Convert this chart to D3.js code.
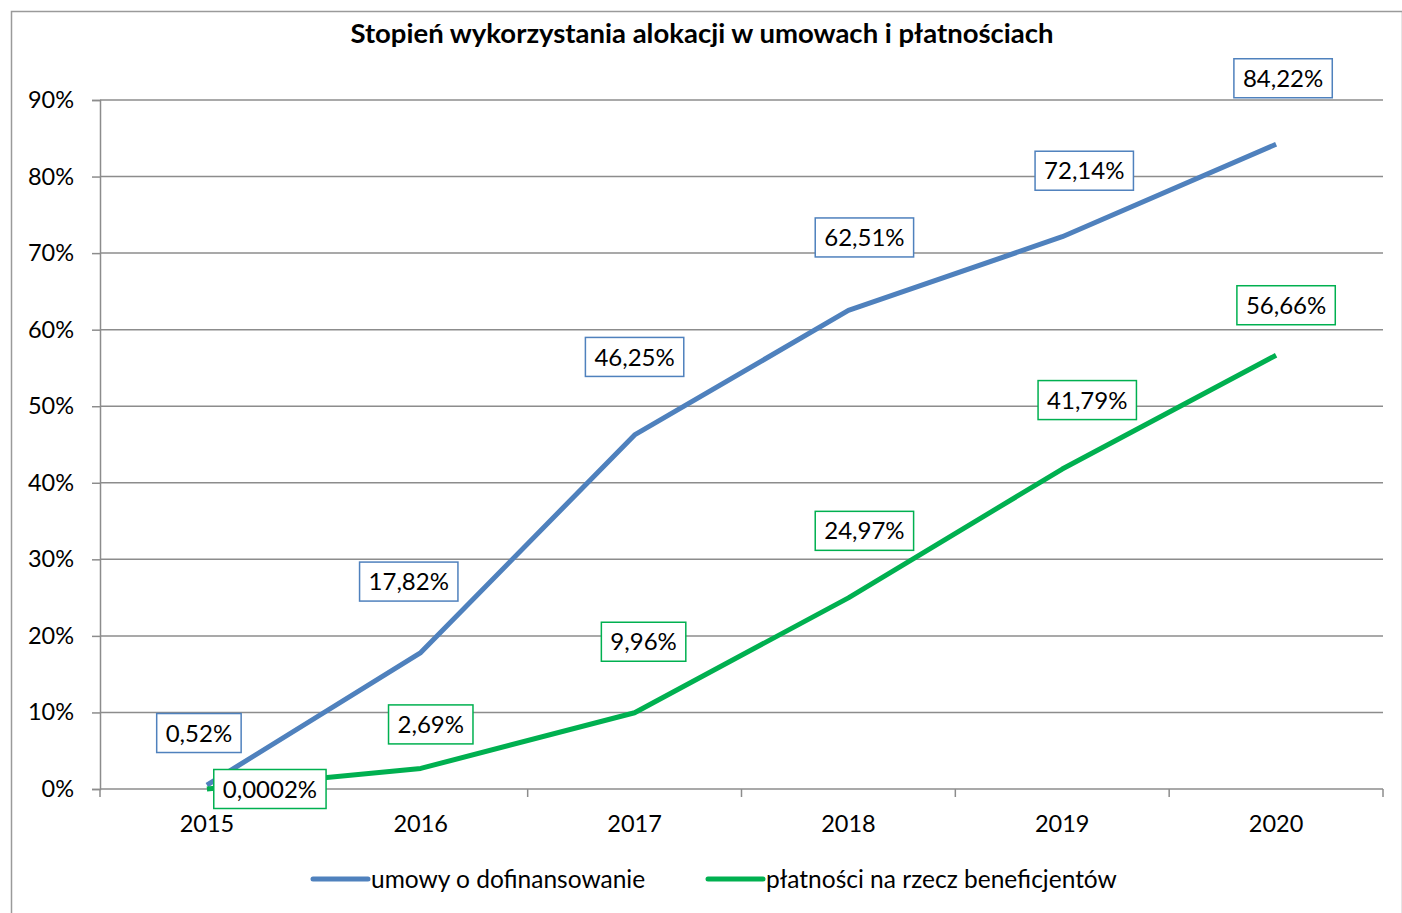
<!DOCTYPE html>
<html>
<head>
<meta charset="utf-8">
<script src="https://cdn.jsdelivr.net/npm/d3@7"></script>
<style>
  body { margin: 0; background: #fff; }
  svg text { font-family: Lato, "Open Sans", sans-serif; fill: #000; }
</style>
</head>
<body>
<div id="chart"></div>
<script>
// Data
var years = ['2015', '2016', '2017', '2018', '2019', '2020']
var umowy = [0.52, 17.82, 46.25, 62.51, 72.14, 84.22]
var platnosci = [0.0002, 2.69, 9.96, 24.97, 41.79, 56.66]
var umowyLabels = ['0,52%', '17,82%', '46,25%', '62,51%', '72,14%', '84,22%']
var platnosciLabels = ['0,0002%', '2,69%', '9,96%', '24,97%', '41,79%', '56,66%']
var yTicks = [0, 10, 20, 30, 40, 50, 60, 70, 80, 90]

// label placement (offset of box centre from the point)
var umowyOffsets = [[-8, -52], [-12, -71], [0, -78], [16, -73], [22, -66], [7, -66]]
var platnosciOffsets = [[63, 0], [10, -44], [9, -71], [16, -67], [25, -69], [10, -50]]

var W = 1402, H = 913
var margin = {top: 100, right: 19, bottom: 124, left: 100}
var width = W - margin.left - margin.right
var height = H - margin.top - margin.bottom

var svg = d3.select('#chart').append('svg')
  .attr('width', W)
  .attr('height', H)

// chart frame
svg.append('rect')
  .attr('x', 11.5).attr('y', 11.5)
  .attr('width', W - 11).attr('height', H)
  .attr('fill', 'none')
  .attr('stroke', '#9a9a9a')
  .attr('stroke-width', 1.5)

svg.append('text')
  .attr('x', 702).attr('y', 43)
  .attr('text-anchor', 'middle')
  .style('font-size', '27.5px')
  .style('font-weight', 'bold')
  .text('Stopień wykorzystania alokacji w umowach i płatnościach')

var g = svg.append('g')
  .attr('transform', 'translate(' + margin.left + ',' + margin.top + ')')

var x = d3.scaleBand().domain(years).range([0, width])
var y = d3.scaleLinear().domain([0, 90]).range([height, 0])

// gridlines
g.selectAll('.grid')
  .data(yTicks.slice(1))
  .enter().append('line')
    .attr('x1', 0).attr('x2', width)
    .attr('y1', function(d){ return y(d) })
    .attr('y2', function(d){ return y(d) })
    .attr('stroke', '#8c8c8c')
    .attr('stroke-width', 1.5)

// Axes
var yAxis = d3.axisLeft(y)
  .tickValues(yTicks)
  .tickFormat(function(d){ return d + '%' })
  .tickSize(8)
  .tickPadding(18)
g.append('g').attr('class', 'axis axis--y').call(yAxis)

var xAxis = d3.axisBottom(x).tickSize(0).tickPadding(26)
var gx = g.append('g')
  .attr('class', 'axis axis--x')
  .attr('transform', 'translate(0,' + height + ')')
  .call(xAxis)

// category boundary ticks
var bounds = years.map(function(d){ return x(d) }).concat([width])
gx.selectAll('.bound')
  .data(bounds)
  .enter().append('line')
    .attr('x1', function(d){ return d }).attr('x2', function(d){ return d })
    .attr('y1', 0).attr('y2', 8)
    .attr('stroke', '#8c8c8c')
    .attr('stroke-width', 1.5)

g.selectAll('.domain')
  .attr('stroke', '#8c8c8c')
  .attr('stroke-width', 1.5)
g.selectAll('.tick line')
  .attr('stroke', '#8c8c8c')
  .attr('stroke-width', 1.5)
g.selectAll('.tick text')
  .style('font-size', '23.5px')
  .attr('fill', '#000')
gx.select('.domain').attr('d', 'M0,0H' + width)

var cx = function(d, i){ return x(years[i]) + x.bandwidth() / 2 }

var series = [
  {values: umowy, labels: umowyLabels, offsets: umowyOffsets, color: '#4f81bd'},
  {values: platnosci, labels: platnosciLabels, offsets: platnosciOffsets, color: '#00b050'}
]

var line = d3.line()
  .x(cx)
  .y(function(d){ return y(d) })

series.forEach(function(s){
  g.append('path')
    .datum(s.values)
    .attr('fill', 'none')
    .attr('stroke', s.color)
    .attr('stroke-width', 5)
    .attr('stroke-linejoin', 'round')
    .attr('d', line)
})

// data labels
series.forEach(function(s){
  var lab = g.selectAll(null)
    .data(s.values)
    .enter().append('g')
      .attr('transform', function(d, i){
        return 'translate(' + (cx(d, i) + s.offsets[i][0]) + ',' + (y(d) + s.offsets[i][1]) + ')'
      })

  lab.append('text')
    .attr('text-anchor', 'middle')
    .attr('dy', '0.36em')
    .style('font-size', '24px')
    .text(function(d, i){ return s.labels[i] })

  lab.each(function(){
    var t = d3.select(this).select('text').node().getBBox()
    d3.select(this).insert('rect', 'text')
      .attr('x', -t.width / 2 - 9)
      .attr('y', -19.5)
      .attr('width', t.width + 18)
      .attr('height', 39)
      .attr('fill', '#fff')
      .attr('stroke', s.color)
      .attr('stroke-width', 1.5)
  })
})

// legend
var legendItems = [
  {name: 'umowy o dofinansowanie', color: '#4f81bd', x: 313},
  {name: 'płatności na rzecz beneficjentów', color: '#00b050', x: 708}
]
var leg = svg.selectAll('.legend')
  .data(legendItems)
  .enter().append('g')
    .attr('transform', function(d){ return 'translate(' + d.x + ',879)' })
leg.append('line')
  .attr('x1', 0).attr('x2', 55)
  .attr('stroke', function(d){ return d.color })
  .attr('stroke-width', 5)
  .attr('stroke-linecap', 'round')
leg.append('text')
  .attr('x', 58)
  .attr('dy', '0.35em')
  .style('font-size', '24.5px')
  .text(function(d){ return d.name })
</script>
</body>
</html>
